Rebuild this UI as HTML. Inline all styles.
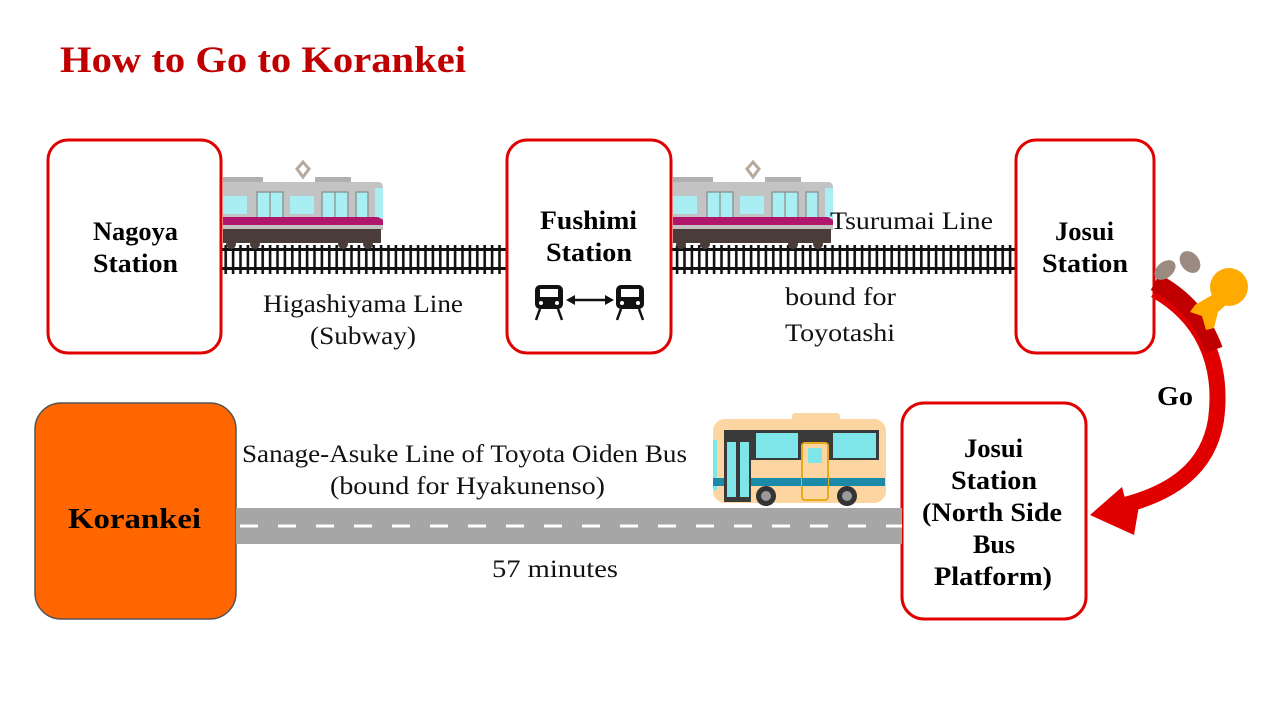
<!DOCTYPE html>
<html><head><meta charset="utf-8"><style>
html,body{margin:0;padding:0;background:#fff;}
svg{display:block;}
text{font-family:"Liberation Serif",serif;}
</style></head><body>
<svg width="1280" height="720" viewBox="0 0 1280 720" xmlns="http://www.w3.org/2000/svg">
<defs>
<pattern id="ties" x="0" y="0" width="7.4" height="30" patternUnits="userSpaceOnUse">
<rect x="2.4" y="0" width="2.6" height="30" fill="#111"/>
</pattern>
<g id="train">
<rect x="0" y="17" width="40" height="6" fill="#b0b0b0"/>
<rect x="92" y="17" width="36" height="6" fill="#b0b0b0"/>
<path d="M80 17 L74 9 L80 2 L86 9 Z" fill="none" stroke="#b8a89a" stroke-width="3"/>
<path d="M0 22 H155 Q160 22 160 28 V70 H0 Z" fill="#c3c3c3"/>
<rect x="0" y="36" width="24" height="18" fill="#a8eef2"/>
<rect x="34" y="32" width="26" height="39" fill="#a8eef2" stroke="#888" stroke-width="1.2"/>
<line x1="47" y1="32" x2="47" y2="71" stroke="#888" stroke-width="1.2"/>
<rect x="67" y="36" width="24" height="18" fill="#a8eef2"/>
<rect x="99" y="32" width="26" height="39" fill="#a8eef2" stroke="#888" stroke-width="1.2"/>
<line x1="112" y1="32" x2="112" y2="71" stroke="#888" stroke-width="1.2"/>
<rect x="133" y="32" width="12" height="39" fill="#a8eef2" stroke="#888" stroke-width="1.2"/>
<rect x="152" y="28" width="8" height="30" fill="#a8eef2"/>
<path d="M0 57 H155 L160 60 V65 H0 Z" fill="#b0166b"/>
<rect x="0" y="65" width="160" height="4" fill="#c3c3c3"/>
<rect x="0" y="69" width="158" height="14" fill="#4a3c38"/>
<circle cx="8" cy="84" r="5" fill="#4a3c38"/>
<circle cx="32" cy="84" r="5" fill="#4a3c38"/>
<circle cx="120" cy="84" r="5" fill="#4a3c38"/>
<circle cx="145" cy="84" r="5" fill="#4a3c38"/>
</g>
</defs>

<text x="60" y="72" font-size="37" font-weight="bold" fill="#c00000" textLength="406" lengthAdjust="spacingAndGlyphs">How to Go to Korankei</text>

<rect x="221" y="245" width="286" height="29" fill="url(#ties)"/>
<rect x="221" y="248" width="286" height="3" fill="#111"/>
<rect x="221" y="267" width="286" height="3" fill="#111"/>
<rect x="671" y="245" width="345" height="29" fill="url(#ties)"/>
<rect x="671" y="248" width="345" height="3" fill="#111"/>
<rect x="671" y="267" width="345" height="3" fill="#111"/>

<use href="#train" x="223" y="160"/>
<use href="#train" x="673" y="160"/>

<rect x="48" y="140" width="173" height="213" rx="20" fill="#fff" stroke="#e00000" stroke-width="3"/>
<rect x="507" y="140" width="164" height="213" rx="20" fill="#fff" stroke="#e00000" stroke-width="3"/>
<rect x="1016" y="140" width="138" height="213" rx="20" fill="#fff" stroke="#e00000" stroke-width="3"/>
<rect x="35" y="403" width="201" height="216" rx="26" fill="#ff6600" stroke="#555" stroke-width="1.5"/>
<rect x="902" y="403" width="184" height="216" rx="22" fill="#fff" stroke="#e00000" stroke-width="3"/>

<g font-weight="bold" font-size="26" fill="#000">
<text x="93" y="240" textLength="85" lengthAdjust="spacingAndGlyphs">Nagoya</text>
<text x="93" y="272" textLength="85" lengthAdjust="spacingAndGlyphs">Station</text>
<text x="540" y="229" textLength="97" lengthAdjust="spacingAndGlyphs">Fushimi</text>
<text x="546" y="261" textLength="86" lengthAdjust="spacingAndGlyphs">Station</text>
<text x="1055" y="240" textLength="59" lengthAdjust="spacingAndGlyphs">Josui</text>
<text x="1042" y="272" textLength="86" lengthAdjust="spacingAndGlyphs">Station</text>
<text x="68" y="528" font-size="28" textLength="133" lengthAdjust="spacingAndGlyphs">Korankei</text>
<text x="964" y="457" textLength="59" lengthAdjust="spacingAndGlyphs">Josui</text>
<text x="951" y="489" textLength="86" lengthAdjust="spacingAndGlyphs">Station</text>
<text x="922" y="521" textLength="140" lengthAdjust="spacingAndGlyphs">(North Side</text>
<text x="973" y="553" textLength="42" lengthAdjust="spacingAndGlyphs">Bus</text>
<text x="934" y="585" textLength="118" lengthAdjust="spacingAndGlyphs">Platform)</text>
<text x="1157" y="405" font-size="27" textLength="36" lengthAdjust="spacingAndGlyphs">Go</text>
</g>

<g font-size="25" fill="#111">
<text x="263" y="312" textLength="200" lengthAdjust="spacingAndGlyphs">Higashiyama Line</text>
<text x="310" y="344" textLength="106" lengthAdjust="spacingAndGlyphs">(Subway)</text>
<text x="830" y="229" textLength="163" lengthAdjust="spacingAndGlyphs">Tsurumai Line</text>
<text x="785" y="305" textLength="111" lengthAdjust="spacingAndGlyphs">bound for</text>
<text x="785" y="341" textLength="110" lengthAdjust="spacingAndGlyphs">Toyotashi</text>
<text x="242" y="462" textLength="445" lengthAdjust="spacingAndGlyphs">Sanage-Asuke Line of Toyota Oiden Bus</text>
<text x="330" y="494" textLength="275" lengthAdjust="spacingAndGlyphs">(bound for Hyakunenso)</text>
<text x="492" y="577" textLength="126" lengthAdjust="spacingAndGlyphs">57 minutes</text>
</g>

<g fill="#111">
<rect x="535" y="285" width="28" height="24" rx="5"/>
<rect x="540" y="289" width="18" height="8" fill="#fff"/>
<circle cx="541" cy="303" r="2" fill="#fff"/><circle cx="557" cy="303" r="2" fill="#fff"/>
<path d="M540 309 L536 320 M558 309 L562 320" stroke="#111" stroke-width="2.5"/>
<rect x="616" y="285" width="28" height="24" rx="5"/>
<rect x="621" y="289" width="18" height="8" fill="#fff"/>
<circle cx="622" cy="303" r="2" fill="#fff"/><circle cx="638" cy="303" r="2" fill="#fff"/>
<path d="M621 309 L617 320 M639 309 L643 320" stroke="#111" stroke-width="2.5"/>
<line x1="572" y1="300" x2="608" y2="300" stroke="#111" stroke-width="2.5"/>
<path d="M566 300 L575 295 L575 305 Z M614 300 L605 295 L605 305 Z"/>
</g>

<rect x="236" y="508" width="666" height="36" fill="#a6a6a6"/>
<line x1="240" y1="526" x2="902" y2="526" stroke="#fff" stroke-width="3" stroke-dasharray="18 20"/>

<g>
<rect x="792" y="413" width="48" height="8" rx="3" fill="#fdd5a0"/>
<rect x="713" y="419" width="173" height="84" rx="12" fill="#fdd5a0"/>
<rect x="724" y="430" width="155" height="30" fill="#3a3a3a"/>
<rect x="724" y="430" width="27" height="72" fill="#3a3a3a"/>
<rect x="727" y="442" width="9" height="55" fill="#7ee5e8"/>
<rect x="740" y="442" width="9" height="55" fill="#7ee5e8"/>
<rect x="756" y="433" width="42" height="25" fill="#7ee5e8"/>
<rect x="833" y="433" width="43" height="25" fill="#7ee5e8"/>
<rect x="713" y="440" width="4" height="50" fill="#7ee5e8"/>
<rect x="751" y="478" width="134" height="8" fill="#1a8aa8"/>
<rect x="713" y="478" width="11" height="8" fill="#1a8aa8"/>
<rect x="802" y="443" width="26" height="57" rx="3" fill="#fdd5a0" stroke="#e8a91a" stroke-width="2"/>
<rect x="808" y="448" width="14" height="15" fill="#7ee5e8"/>
<rect x="802" y="478" width="26" height="8" fill="#1a8aa8"/>
<circle cx="766" cy="496" r="10" fill="#333"/><circle cx="766" cy="496" r="5" fill="#999"/>
<circle cx="847" cy="496" r="10" fill="#333"/><circle cx="847" cy="496" r="5" fill="#999"/>
</g>

<path d="M1155 290 C1200 315 1224 360 1216 420 C1208 470 1170 493 1125 505" fill="none" stroke="#e00000" stroke-width="16"/>
<path d="M1155 282 C1185 298 1203 320 1214 350" fill="none" stroke="#c00000" stroke-width="18"/>
<path d="M1090 515 L1122 487 L1126 502 L1140 500 L1134 535 Z" fill="#e00000"/>
<g fill="#9b8a80">
<ellipse cx="1165" cy="270" rx="8" ry="12" transform="rotate(50 1165 270)"/>
<ellipse cx="1190" cy="262" rx="9" ry="12" transform="rotate(-40 1190 262)"/>
</g>
<g fill="#ffaa00">
<circle cx="1229" cy="287" r="19"/>
<path d="M1212 295 L1195 305 L1190 312 L1202 316 L1206 330 L1214 328 L1218 312 L1226 305 Z"/>
</g>
</svg>
</body></html>
